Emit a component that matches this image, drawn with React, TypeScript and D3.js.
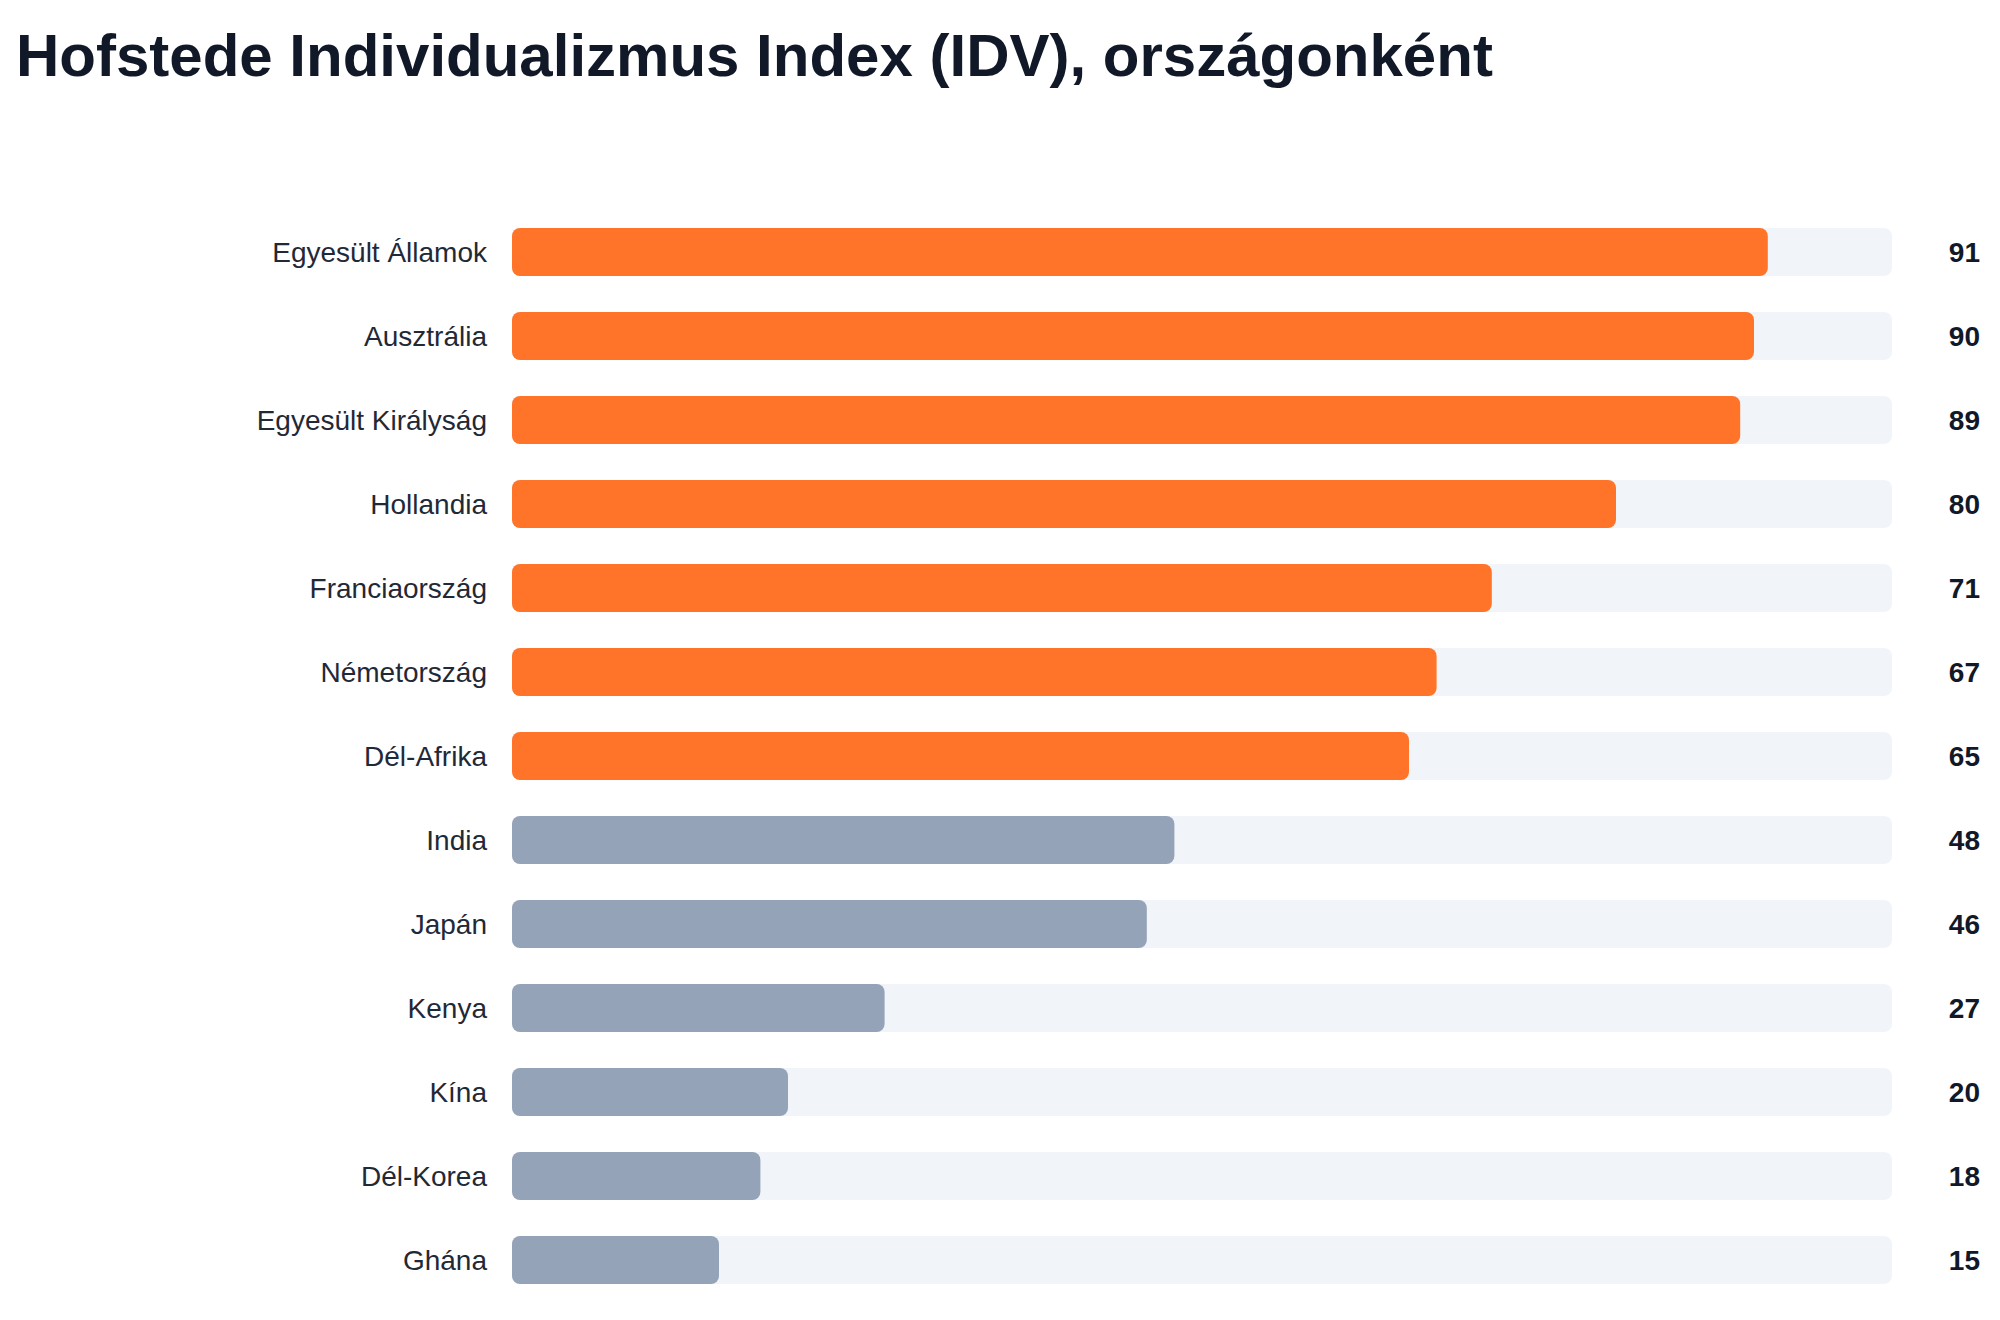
import React from "react";
import * as d3 from "d3";

const countries = [
  "Egyesült Államok",
  "Ausztrália",
  "Egyesült Királyság",
  "Hollandia",
  "Franciaország",
  "Németország",
  "Dél-Afrika",
  "India",
  "Japán",
  "Kenya",
  "Kína",
  "Dél-Korea",
  "Ghána",
];
const idvValues = [91, 90, 89, 80, 71, 67, 65, 48, 46, 27, 20, 18, 15];
const highThreshold = 60;

const W = 2000;
const H = 1320;
const left = 512;
const right = 1892;
const top = 210;
const rowStep = 84;
const barH = 48;

export default function App() {
  const x = d3.scaleLinear().domain([0, 100]).range([left, right]);
  const y = d3
    .scaleBand<string>()
    .domain(countries)
    .range([top, top + rowStep * countries.length])
    .paddingInner((rowStep - barH) / rowStep)
    .paddingOuter((rowStep - barH) / rowStep / 2);

  return (
    <svg
      width={W}
      height={H}
      style={{ position: "absolute", left: 0, top: 0, background: "#fff" }}
      fontFamily="'Liberation Sans', Arial, Helvetica, sans-serif"
    >
      <text x={16} y={76} fontSize={60} fontWeight={700} fill="#111827">
        Hofstede Individualizmus Index (IDV), országonként
      </text>
      {countries.map((c, i) => {
        const v = idvValues[i];
        const yy = y(c)!;
        const cy = yy + y.bandwidth() / 2;
        return (
          <g key={c}>
            <text
              x={487}
              y={cy}
              dy="0.35em"
              textAnchor="end"
              fontSize={28}
              fill="#1f2937"
            >
              {c}
            </text>
            <rect
              x={x(0)}
              y={yy}
              width={x(100) - x(0)}
              height={y.bandwidth()}
              rx={8}
              fill="#f1f5f9"
            />
            <rect
              x={x(0)}
              y={yy}
              width={x(v) - x(0)}
              height={y.bandwidth()}
              rx={8}
              fill={v >= highThreshold ? "#ff7428" : "#94a3b8"}
            />
            <text
              x={1980}
              y={cy}
              dy="0.35em"
              textAnchor="end"
              fontSize={28}
              fontWeight={700}
              fill="#111827"
            >
              {v}
            </text>
          </g>
        );
      })}
    </svg>
  );
}
